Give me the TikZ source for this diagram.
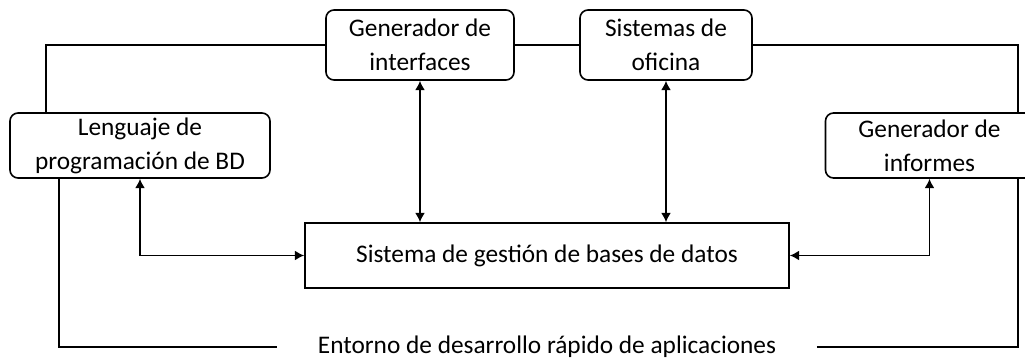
\documentclass[tikz,border=0pt]{standalone}
\usepackage{fontspec}
\setmainfont{Carlito}
\usetikzlibrary{arrows.meta}
\tikzstyle{modulo}=[draw, rounded corners=6pt, align=center, inner sep=0pt]
\tikzstyle{nucleo}=[draw, align=center, inner sep=0pt]
\newcommand{\modulo}{\node[modulo]}

\begin{document}
\begin{tikzpicture}[x=0.75pt, y=-0.75pt, line width=1.2pt, >={Latex[length=7pt,width=7.5pt]}
  ,every node/.style={font=\fontsize{19}{25.5}\selectfont}
]
\useasboundingbox (0,0) rectangle (1025,360);
\modulo (intf) at (420,45) [minimum width=141pt, minimum height=52.5pt]{Generador de\\interfaces};
\modulo (ofic) at (666,45) [minimum width=129pt, minimum height=52.5pt]{Sistemas de\\oficina};
\modulo (leng) at (140,145.5) [minimum width=195pt, minimum height=48.75pt]{Lenguaje de\\programación de BD};
\modulo (info) at (929.5,145.5) [minimum width=156pt, minimum height=48.75pt]{Generador de\\informes};
\node[nucleo] (sgbd) at (547,255.5) [minimum width=363pt, minimum height=48.75pt]{Sistema de gestión de bases de datos};
\node[inner xsep=30pt, inner ysep=0pt] (ent) at (547,347) {Entorno de desarrollo rápido de aplicaciones};
\coordinate (esqA) at (46,45);
\coordinate (esqB) at (1018,45);
\coordinate (esqC) at (59,337);
\coordinate (esqD) at (1018,337);
% marco del entorno
\draw (leng.north -| esqA) -- (esqA) -- (intf.west);
\draw (intf.east) -- (ofic.west);
\draw (ofic.east) -- (esqB) -- (info.north -| esqB);
\draw (leng.south -| esqC) -- (esqC |- ent.west) -- (ent.west);
\draw (ent.east) -- (esqD |- ent.east) -- (info.south -| esqD);
% flujos con el SGBD
\draw[<->] (intf.south) -- (intf.south |- sgbd.north);
\draw[<->] (ofic.south) -- (ofic.south |- sgbd.north);
\draw[<->] (leng.south) |- (sgbd.west);
\draw[<->] (info.south) |- (sgbd.east);
\end{tikzpicture}
\end{document}
